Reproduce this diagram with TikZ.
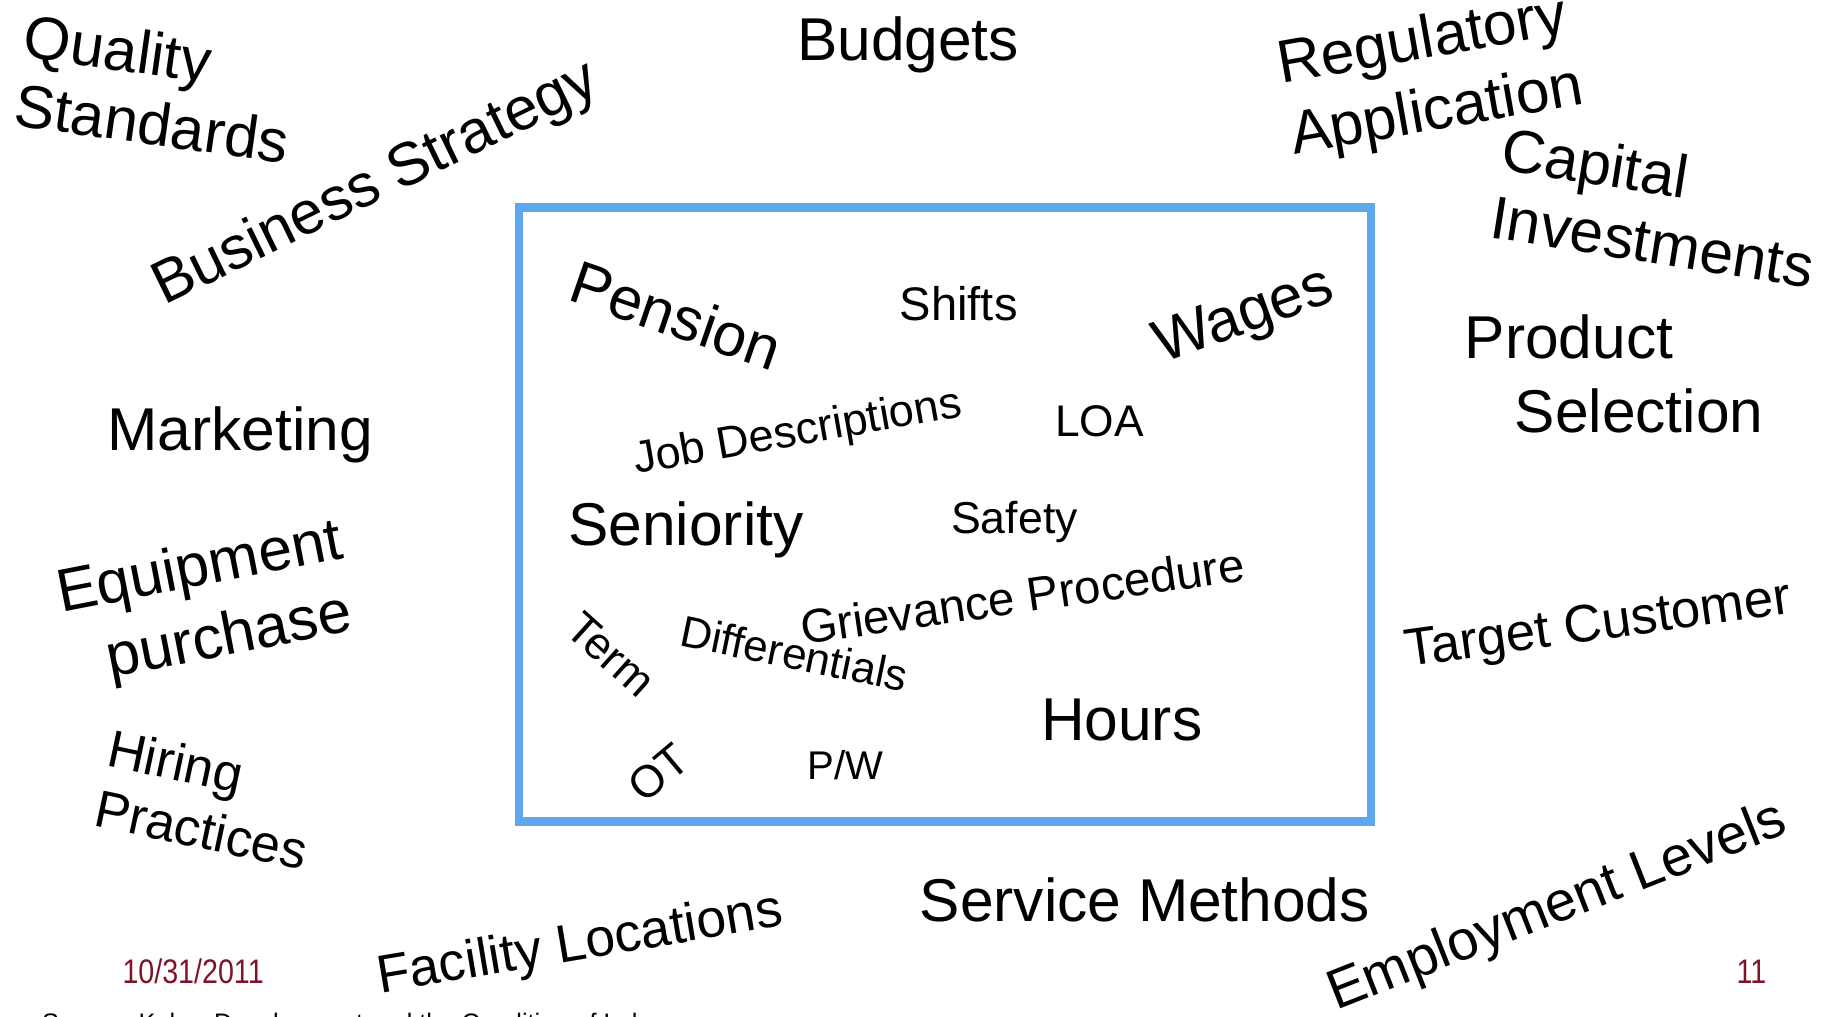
\documentclass[tikz,border=0pt]{standalone}
\usepackage{fontspec}
\setmainfont{Liberation Sans}
\definecolor{boxblue}{RGB}{94,167,238}
\definecolor{footred}{RGB}{125,20,40}
\begin{document}
\begin{tikzpicture}[
  lbl/.style={inner sep=0pt, outer sep=0pt, anchor=base west},
  big/.style={lbl, font=\fontsize{17.2}{19.6}\selectfont},
  mid/.style={lbl, font=\fontsize{15.1}{17.4}\selectfont},
  small/.style={lbl, font=\fontsize{12.8}{14.7}\selectfont},
  lines/.style={text width=7cm, align=left},
  foot/.style={lbl, font=\fontsize{9.7}{11}\selectfont, text=footred}
]
\useasboundingbox (0,0) rectangle (18.3,10.17);
\clip (0,0) rectangle (18.3,10.17);
% the bargaining box
\draw[boxblue, line width=2.4pt] (5.19,1.954) rectangle (13.71,8.093);
% outside the box
\node[big, lines, rotate=-8] (qual) at (0.22,9.6) {Quality\\Standards};
\node[big] (budg) at (7.971,9.563) {Budgets};
\node[big, lines, rotate=10, font=\fontsize{17.2}{20.5}\selectfont] (regu) at (12.815,9.33) {Regulatory\\Application};
\node[big, lines, rotate=-9] (capi) at (14.99,8.478) {Capital\\Investments};
\node[big, lines, font=\fontsize{17.2}{21.2}\selectfont] (prod) at (14.647,6.587) {Product\\\hspace*{0.5cm}Selection};
\node[big] (mark) at (1.074,5.665) {Marketing};
\node[big, rotate=26] (busi) at (1.64,7.11) {Business Strategy};
\node[big, lines, rotate=11, font=\fontsize{17.2}{20.8}\selectfont] (equi) at (0.61,4.04) {Equipment\\\hspace*{0.36cm}purchase};
\node[mid, lines, rotate=-12, font=\fontsize{14.9}{17.4}\selectfont] (hiri) at (1.05,2.514) {Hiring\\Practices};
\node[mid, rotate=8, font=\fontsize{15.0}{17}\selectfont] (targ) at (14.07,3.50) {Target Customer};
\node[mid, rotate=21.5, font=\fontsize{15.9}{18}\selectfont] (empl) at (13.36,0.06) {Employment Levels};
\node[mid, rotate=9.5, font=\fontsize{15.2}{18}\selectfont] (faci) at (3.805,0.238) {Facility Locations};
\node[big] (serv) at (9.197,0.95) {Service Methods};
% inside the box
\node[big, rotate=-19] (pens) at (5.66,7.17) {Pension};
\node[small, font=\fontsize{13.4}{15}\selectfont] (shif) at (8.998,6.96) {Shifts};
\node[big, rotate=20] (wage) at (11.62,6.53) {Wages};
\node[small, rotate=10] (jobd) at (6.36,5.43) {Job Descriptions};
\node[small, font=\fontsize{12.6}{15}\selectfont] (loa) at (10.55,5.805) {LOA};
\node[big] (seni) at (5.684,4.71) {Seniority};
\node[small, font=\fontsize{12.7}{15}\selectfont] (safe) at (9.512,4.836) {Safety};
\node[small, rotate=8.3, font=\fontsize{13.5}{15}\selectfont] (grie) at (8.03,3.72) {Grievance Procedure};
\node[small, rotate=-11.6, font=\fontsize{12.5}{15}\selectfont] (diff) at (6.78,3.716) {Differentials};
\node[small, anchor=center, rotate=-42] (term) at (6.11,3.623) {Term};
\node[small, anchor=center, rotate=40] (ot) at (6.582,2.444) {OT};
\node[small, font=\fontsize{11.4}{13}\selectfont] (pw) at (8.076,2.374) {P/W};
\node[big] (hour) at (10.41,2.76) {Hours};
% footer
\node[foot] (date) at (1.225,0.331) {\scalebox{0.84}[1]{10/31/2011}};
\node[foot] (page) at (17.366,0.331) {\scalebox{0.84}[1]{11}};
\node[lbl, font=\fontsize{7.2}{9}\selectfont] (src) at (0.42,-0.145) {Source: Kalev, Development and the Condition of Labor};
\end{tikzpicture}
\end{document}
